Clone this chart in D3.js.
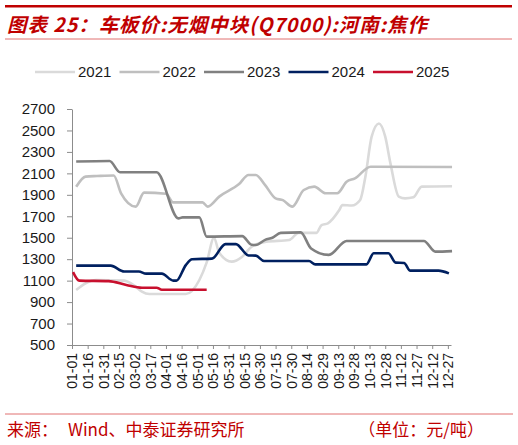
<!DOCTYPE html>
<html>
<head>
<meta charset="utf-8">
<script src="https://cdn.jsdelivr.net/npm/d3@7"></script>
<style>
    body { margin: 0; background: #fff; }
    svg { display: block; font-family: 'Liberation Sans', Arial, sans-serif; }
    .axis path, .axis line { stroke: #8c8c8c; }
    .axis text { fill: #1a1a1a; }
</style>
</head>
<body>
<div id="chart"></div>
<script>
// Series data (date as MM-DD, value in 元/吨)
var dates2021 = ['01-05', '01-14', '01-24', '02-20', '03-03', '03-09', '03-16', '04-20', '05-03', '05-10', '05-17', '05-22', '06-03', '06-13', '06-22', '07-06', '07-28', '08-06', '08-23', '08-28', '09-03', '09-14', '09-17', '09-26', '10-04', '10-09', '10-15', '10-22', '10-28', '11-02', '11-10', '11-16', '11-24', '12-02', '12-31'];
var vals2021 = [1013, 1075, 1106, 1100, 1044, 997, 975, 975, 1106, 1270, 1500, 1360, 1277, 1323, 1416, 1463, 1478, 1545, 1545, 1618, 1634, 1758, 1805, 1800, 1852, 2069, 2442, 2565, 2442, 2193, 1883, 1867, 1877, 1976, 1980];

var dates2022 = ['01-05', '01-14', '01-25', '02-10', '02-17', '03-03', '03-11', '04-01', '04-08', '05-06', '05-11', '05-22', '06-10', '06-19', '06-26', '07-05', '07-15', '07-22', '07-31', '08-11', '08-21', '09-01', '09-12', '09-21', '09-29', '10-14', '12-31'];
var vals2022 = [1975, 2070, 2075, 2080, 1914, 1790, 1920, 1910, 1830, 1830, 1790, 1883, 2000, 2085, 2085, 1990, 1867, 1850, 1790, 1945, 1976, 1914, 1914, 2022, 2053, 2162, 2160];

var dates2023 = ['01-05', '02-06', '02-16', '03-23', '04-13', '04-17', '05-03', '05-10', '06-13', '06-22', '06-26', '07-05', '07-12', '07-20', '08-08', '08-18', '09-04', '09-21', '12-04', '12-15', '12-31'];
var vals2023 = [2210, 2215, 2110, 2110, 1680, 1690, 1690, 1510, 1515, 1435, 1432, 1480, 1500, 1545, 1550, 1400, 1340, 1470, 1470, 1370, 1375];

var dates2024 = ['01-05', '02-07', '02-20', '03-06', '03-13', '03-28', '04-08', '04-11', '04-20', '04-26', '05-15', '05-28', '06-07', '06-19', '06-26', '07-04', '08-16', '08-22', '10-10', '10-17', '10-31', '11-07', '11-15', '11-21', '12-18', '12-28'];
var vals2024 = [1240, 1240, 1185, 1185, 1165, 1165, 1100, 1100, 1245, 1300, 1305, 1440, 1440, 1335, 1333, 1283, 1283, 1252, 1252, 1355, 1355, 1268, 1265, 1193, 1193, 1168];

var dates2025 = ['01-02', '01-08', '02-05', '02-22', '03-09', '03-23', '03-28', '05-10'];
var vals2025 = [1180, 1100, 1095, 1060, 1034, 1034, 1015, 1015];

var years = ['2021', '2022', '2023', '2024', '2025'];
var colors = ['#dadada', '#bfbfbf', '#808080', '#002060', '#c8102e'];

// Axis ticks
var yTicks = [500, 700, 900, 1100, 1300, 1500, 1700, 1900, 2100, 2300, 2500, 2700];
var xTickLabels = ['01-01', '01-16', '01-31', '02-15', '03-02', '03-17', '04-01', '04-16', '05-01', '05-16', '05-31', '06-15', '06-30', '07-15', '07-30', '08-14', '08-29', '09-13', '09-28', '10-13', '10-28', '11-12', '11-27', '12-12', '12-27'];

var parseDate = d3.timeParse('%m-%d');
var fmtDate = d3.timeFormat('%m-%d');

var series = [
    { name: years[0], dates: dates2021, vals: vals2021 },
    { name: years[1], dates: dates2022, vals: vals2022 },
    { name: years[2], dates: dates2023, vals: vals2023 },
    { name: years[3], dates: dates2024, vals: vals2024 },
    { name: years[4], dates: dates2025, vals: vals2025 },
];

var W = 518,
    H = 445;
var plot = { left: 72, right: 451, top: 109, bottom: 345 };

var svg = d3.select('#chart').append('svg').attr('width', W).attr('height', H);

// Header
svg.append('rect').attr('x', 5).attr('y', 5).attr('width', 507).attr('height', 2.5).attr('fill', '#c00000');
svg.append('text')
    .attr('x', 7)
    .attr('y', 32)
    .attr('fill', '#c00000')
    .attr('textLength', 420)
    .attr('lengthAdjust', 'spacing')
    .style('font-family', "'Noto Sans CJK SC', sans-serif")
    .style('font-size', '19.5px')
    .style('font-weight', 'bold')
    .style('font-style', 'italic')
    .text('图表 25：车板价:无烟中块(Q7000):河南:焦作');
svg.append('line').attr('x1', 5).attr('x2', 512).attr('y1', 39).attr('y2', 39).attr('stroke', '#e07070').attr('stroke-width', 1);

// Scales
var x = d3
    .scaleTime()
    .domain([parseDate('01-01'), parseDate('12-30')])
    .range([plot.left, plot.right]);
var y = d3.scaleLinear().domain([500, 2700]).range([plot.bottom, plot.top]);

// Y Axis
svg.append('g')
    .attr('class', 'axis')
    .attr('transform', 'translate(' + plot.left + ',0)')
    .call(d3.axisLeft(y).tickValues(yTicks).tickSize(5).tickSizeOuter(0).tickPadding(12).tickFormat(d3.format('d')))
    .call((g) => g.selectAll('text').style('font-size', '15px'));

// X Axis
svg.append('g')
    .attr('class', 'axis')
    .attr('transform', 'translate(0,' + plot.bottom + ')')
    .call(
        d3
            .axisBottom(x)
            .tickValues(xTickLabels.map(parseDate))
            .tickSize(4)
            .tickSizeOuter(0)
            .tickFormat(fmtDate)
    )
    .call((g) =>
        g
            .selectAll('text')
            .style('font-size', '14px')
            .attr('text-anchor', 'end')
            .attr('transform', 'rotate(-90)')
            .attr('x', -8)
            .attr('y', 0)
            .attr('dy', '0.35em')
    );

// Lines
var line = d3
    .line()
    .curve(d3.curveMonotoneX)
    .x((d) => x(d.date))
    .y((d) => y(d.value));

series.forEach(function (s, i) {
    var pts = s.dates.map(function (d, j) {
        return { date: parseDate(d), value: s.vals[j] };
    });
    svg.append('path')
        .datum(pts)
        .attr('fill', 'none')
        .attr('stroke', colors[i])
        .attr('stroke-width', 2.6)
        .attr('stroke-linejoin', 'round')
        .attr('d', line);
});

// Legend
var legend = svg
    .selectAll('.legend')
    .data(years)
    .enter()
    .append('g')
    .attr('class', 'legend')
    .attr('transform', (d, i) => 'translate(' + (35 + i * 84.5) + ',72)');
legend
    .append('line')
    .attr('x1', 0)
    .attr('x2', 40)
    .attr('stroke', (d, i) => colors[i])
    .attr('stroke-width', 2.6);
legend
    .append('text')
    .attr('x', 43)
    .attr('dy', '0.35em')
    .attr('fill', '#1a1a1a')
    .style('font-size', '15px')
    .text((d) => d);

// Footer
svg.append('line').attr('x1', 5).attr('x2', 513).attr('y1', 414).attr('y2', 414).attr('stroke', '#e07070').attr('stroke-width', 1);
var foot = svg
    .append('g')
    .attr('fill', '#c00000')
    .style('font-family', "'Noto Sans CJK SC', sans-serif")
    .style('font-size', '17px');
foot.append('text').attr('x', 7).attr('y', 436).text('来源：');
foot.append('text').attr('x', 68).attr('y', 436).text('Wind、中泰证券研究所');
foot.append('text').attr('x', 484).attr('y', 436).attr('text-anchor', 'end').text('（单位：元/吨）');
</script>
</body>
</html>
